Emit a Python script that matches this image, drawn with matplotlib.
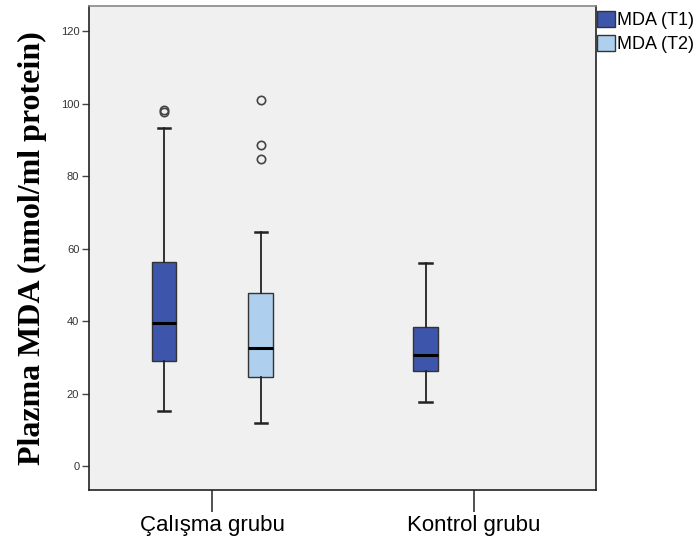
import matplotlib

matplotlib.use("Agg")
import matplotlib.pyplot as plt
from matplotlib.patches import Patch

# SPSS kutu grafiği: Plazma MDA, çalışma ve kontrol grupları
groups = ["Çalışma grubu", "Kontrol grubu"]
series = ["MDA (T1)", "MDA (T2)"]
colors = ["#3D55AA", "#AED0EE"]

# (grup, seri) -> whislo, q1, med, q3, whishi, aykırılar
stats_raw = {
    (0, 0): (15.3, 29.0, 39.4, 56.2, 93.3, [97.6, 98.2]),
    (0, 1): (12.0, 24.6, 32.6, 47.6, 64.6, [84.6, 88.6, 101.0]),
    (1, 0): (17.7, 26.3, 30.6, 38.4, 55.9, []),
}

offset = 0.185
box_w = 0.092

fig = plt.figure(figsize=(7.0, 5.43), dpi=100)
ax = fig.add_axes([89 / 700, 1 - 490 / 543, (596 - 89) / 700, (490 - 6) / 543])
ax.set_facecolor("#F0F0F0")

for (g, s), (lo, q1, med, q3, hi, fl) in stats_raw.items():
    pos = g + (offset if s else -offset)
    st = [dict(whislo=lo, q1=q1, med=med, q3=q3, whishi=hi, fliers=fl)]
    ax.bxp(st, positions=[pos], widths=box_w, patch_artist=True,
           showfliers=True,
           boxprops=dict(facecolor=colors[s], edgecolor="#333333", lw=1.0),
           medianprops=dict(color="black", lw=2.2),
           whiskerprops=dict(color="#222222", lw=1.3),
           capprops=dict(color="#222222", lw=1.8),
           capwidths=box_w / 2,
           flierprops=dict(marker="o", markersize=6, markerfacecolor="none",
                           markeredgecolor="#444444", markeredgewidth=1.2))

ax.set_xlim(-0.47, 1.466)
ax.set_ylim(-6.6, 126.9)
ax.set_yticks(range(0, 121, 20))
ax.set_xticks([0, 1])
ax.set_xticklabels(groups, fontsize=16, family="Liberation Sans")
ax.tick_params(axis="x", length=16, width=1.3, color="#444444", pad=2)
ax.tick_params(axis="y", length=5, width=1, color="#444444", labelsize=8,
               labelcolor="#333333", pad=2)
for lab in ax.get_yticklabels():
    lab.set_family("Liberation Sans")
for sp in ax.spines.values():
    sp.set_color("#222222")
    sp.set_linewidth(1.2)
ax.spines["top"].set_color("#888888")

ax.set_ylabel("Plazma MDA (nmol/ml protein)", family="Liberation Serif",
              fontweight="bold", fontsize=23, labelpad=10)

handles = [Patch(facecolor=c, edgecolor="#333333", label=l) for c, l in zip(colors, series)]
fig.legend(handles=handles, loc="upper left", bbox_to_anchor=(597 / 700, 1 - 11 / 543),
           frameon=False, prop=dict(family="Liberation Sans", size=13),
           handlelength=1.0, handleheight=1.0, handletextpad=0.1,
           borderaxespad=0, labelspacing=0.3, borderpad=0.0)

fig.savefig("out.png", dpi=100)
